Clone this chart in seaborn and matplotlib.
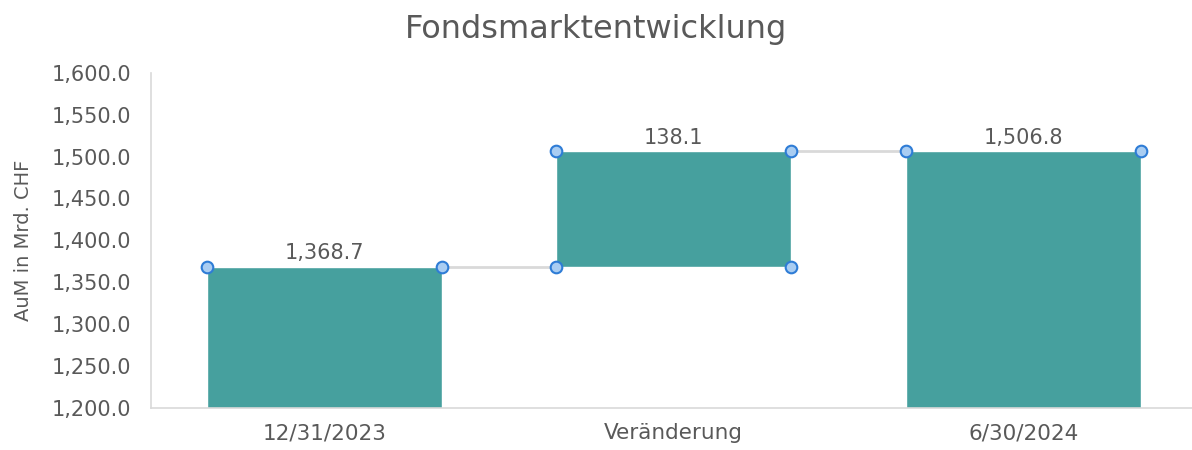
import numpy as np
import pandas as pd
import matplotlib.pyplot as plt
import seaborn as sns
from matplotlib.ticker import FuncFormatter

# Daten
labels = ['12/31/2023', 'Veränderung', '6/30/2024']
values = [1368.7, 138.1, 1506.8]
is_total = [True, False, True]

# Wasserfall: Basis und Höhe berechnen
bottoms = []
running = 0.0
for v, tot in zip(values, is_total):
    if tot:
        bottoms.append(0.0)
        running = v
    else:
        bottoms.append(running)
        running += v
tops = [b + v for b, v in zip(bottoms, values)]

df = pd.DataFrame({'label': labels, 'value': values, 'bottom': bottoms, 'top': tops})

sns.set_style('white')
plt.rcParams['font.family'] = ['DejaVu Sans']
grey = '#595959'
teal = '#46A09E'

fig = plt.figure(figsize=(11.92, 4.5), dpi=100)
ax = fig.add_axes([0.1267, 0.0933, 0.8795, 0.745])

bar_w = 0.672
sns.barplot(data=df, x='label', y='value', bottom=df['bottom'].values,
            color=teal, width=bar_w, saturation=1, ax=ax, zorder=2)

ax.set_ylim(1200, 1600)
ax.set_xlim(-0.496, 2.504)
ax.set_yticks(np.arange(1200, 1601, 50))
ax.yaxis.set_major_formatter(FuncFormatter(lambda v, p: f'{v:,.1f}'))
ax.tick_params(axis='both', length=0, labelcolor=grey)
ax.tick_params(axis='y', pad=14, labelsize=15)
ax.tick_params(axis='x', pad=11, labelsize=15.5)

for side in ['top', 'right']:
    ax.spines[side].set_visible(False)
for side in ['left', 'bottom']:
    ax.spines[side].set_color('#D9D9D9')
    ax.spines[side].set_linewidth(1.2)

ax.set_xlabel('')
ax.set_ylabel('AuM in Mrd. CHF', fontsize=14, color=grey, labelpad=14)
fig.suptitle('Fondsmarktentwicklung', fontsize=23, color=grey, y=0.968)

# Verbindungslinien
half = bar_w / 2
for i in range(len(values) - 1):
    ax.plot([i + half, i + 1 - half], [tops[i], tops[i]], color='#D9D9D9',
            lw=2, zorder=1)

# Datenbeschriftung
for i, (v, t) in enumerate(zip(values, tops)):
    ax.text(i, t + 4, f'{v:,.1f}', ha='center', va='bottom', fontsize=15, color=grey)

# Auswahlpunkte an den Ecken
pts_x, pts_y = [], []
for i, (b, t, tot) in enumerate(zip(bottoms, tops, is_total)):
    pts_x += [i - half, i + half]
    pts_y += [t, t]
    if not tot:
        pts_x += [i - half, i + half]
        pts_y += [b, b]
ax.scatter(pts_x, pts_y, s=70, facecolor='#A9CDF2', edgecolor='#2E7CD6',
           linewidth=1.5, zorder=5, clip_on=False)

plt.savefig('out.png', dpi=100)
